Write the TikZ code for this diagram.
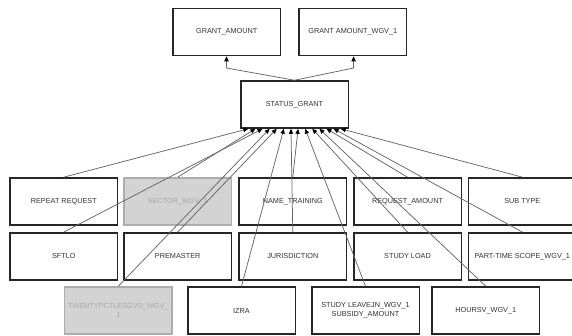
\documentclass[tikz,border=0pt]{standalone}
\usepackage{fontspec}
\setmainfont{Liberation Sans}
\usetikzlibrary{arrows.meta}
\definecolor{bordc}{HTML}{262626}
\definecolor{txtc}{HTML}{333333}
\definecolor{linec}{HTML}{666666}
\definecolor{gfill}{HTML}{D3D3D3}
\definecolor{gbord}{HTML}{ADADAD}
\definecolor{gtext}{HTML}{A8A8A8}
\begin{document}
\begin{tikzpicture}[x=1pt,y=-1pt,
  box/.style={draw=bordc, line width=1.5pt, fill=white, minimum width=107.5pt, minimum height=47pt, inner sep=0pt, font=\fontsize{7.3}{8.8}\selectfont, text=txtc, align=center},
  gbox/.style={box, draw=gbord, fill=gfill, text=gtext},
  conn/.style={draw=linec, line width=0.75pt, -{Triangle[length=5pt,width=4.3pt,color=black]}}
]
\useasboundingbox (0,0) rectangle (572,335);
\clip (0,0) rectangle (572,335);
% top row
\node[box] (ga)  at (226.7,32) {GRANT\_AMOUNT};
\node[box] (gaw) at (352.8,32) {GRANT AMOUNT\_WGV\_1};
\node[box] (sg)  at (294.5,104.5) {STATUS\_GRANT};
% row 1
\node[box]  (rr)  at (63.8,201.4)  {REPEAT REQUEST};
\node[gbox] (sec) at (177.7,201.4) {SECTOR\_WGV\_1};
\node[box]  (nt)  at (292.8,201.4) {NAME\_TRAINING};
\node[box]  (ra)  at (407.5,201.4) {REQUEST\_AMOUNT};
\node[box]  (st)  at (522.3,201.4) {SUB TYPE};
% row 2
\node[box] (sf)  at (63.8,256.3)  {SFTLO};
\node[box] (pm)  at (177.7,256.3) {PREMASTER};
\node[box] (ju)  at (292.8,256.3) {JURISDICTION};
\node[box] (sld) at (407.5,256.3) {STUDY LOAD};
\node[box] (pt)  at (522.3,256.3) {PART-TIME SCOPE\_WGV\_1};
% row 3
\node[gbox] (tw) at (118.3,310.5) {TWENTYPCTLESGVD\_WGV\_\\1};
\node[box]  (iz) at (241.5,310.5) {IZRA};
\node[box]  (sl) at (365.5,310.5) {STUDY LEAVEJN\_WGV\_1\\SUBSIDY\_AMOUNT};
\node[box]  (hv) at (485.8,310.5) {HOURSV\_WGV\_1};
% top connectors
\coordinate (b1) at (226.5,68);
\coordinate (b2) at (353.6,68);
\draw[conn] (sg.north) -- (b1) -- (b1 |- ga.south);
\draw[conn] (sg.north) -- (b2) -- (b2 |- gaw.south);
% bottom connectors
\foreach \src [count=\k from 0] in {rr,sec,sf,tw,pm,iz,ju,nt,sl,sld,hv,ra,pt,st}{
  \draw[conn] (\src.north) -- ([xshift={-46.2pt+\k*7.11pt}]sg.south);
}
\end{tikzpicture}
\end{document}
